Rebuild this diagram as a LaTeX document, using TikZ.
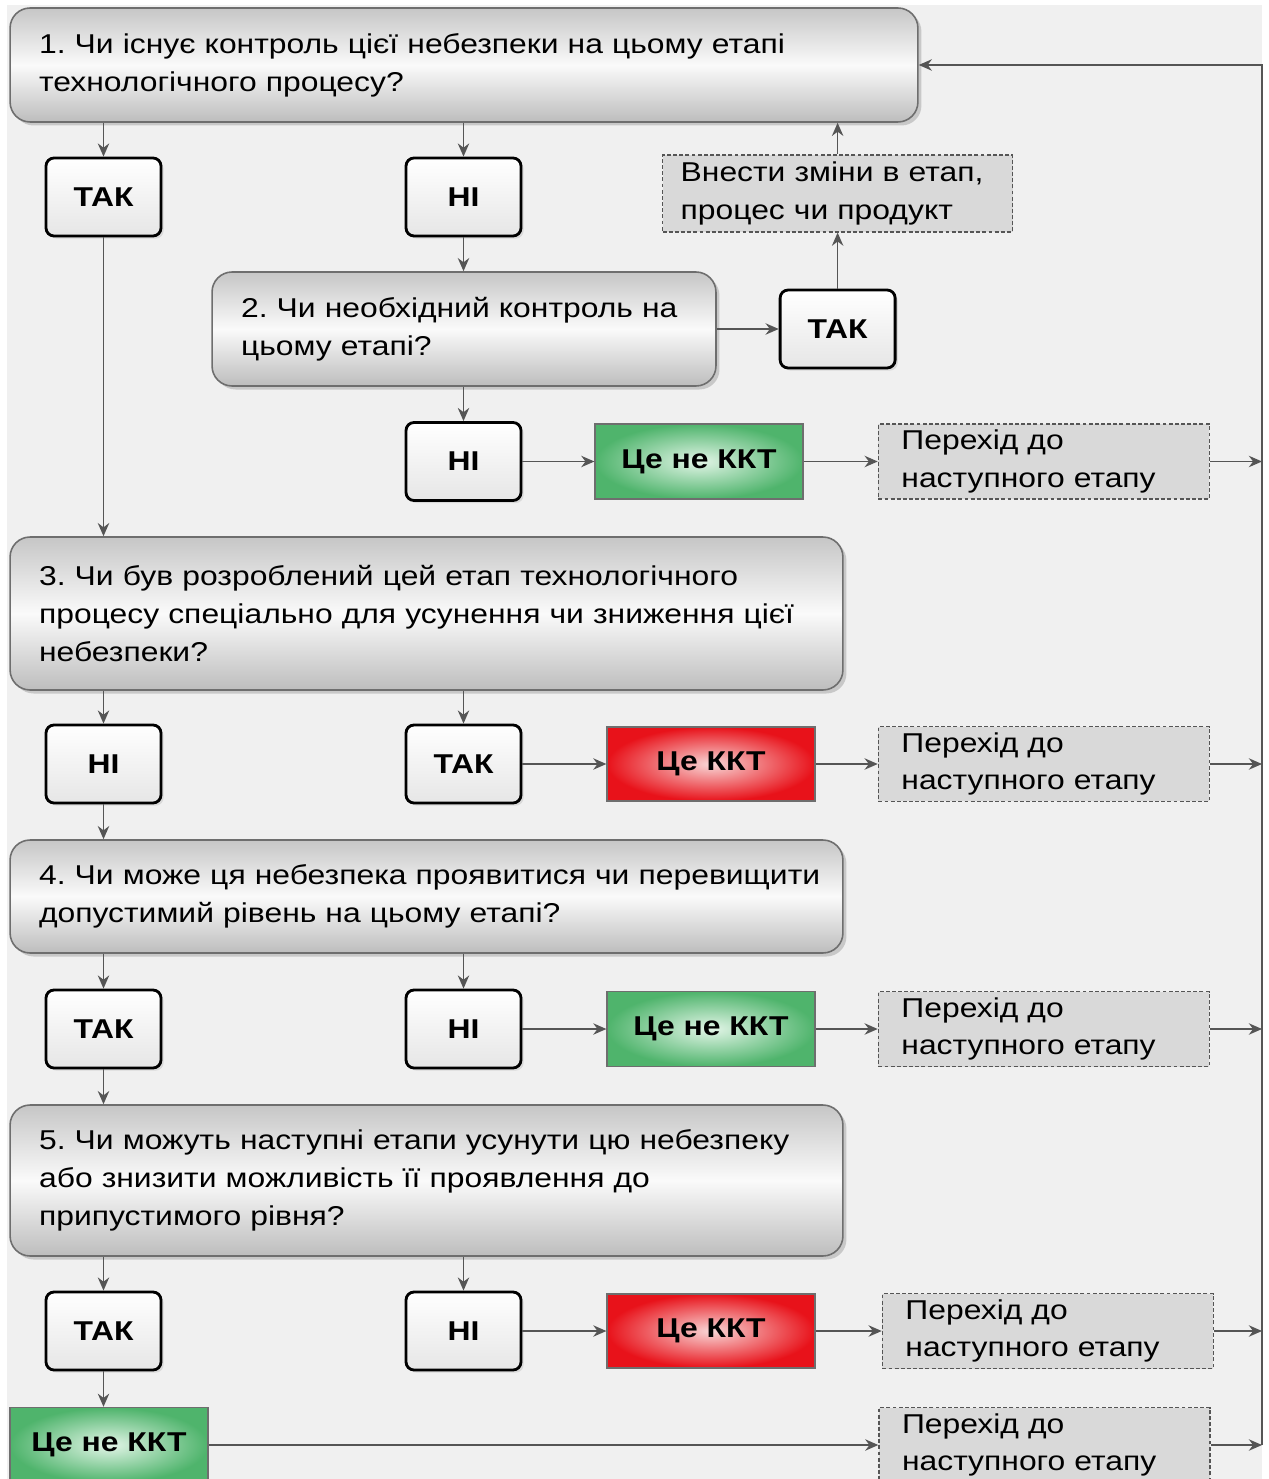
\documentclass[tikz,border=0pt]{standalone}
\usepackage{fontspec}
\setmainfont{Liberation Sans}[FakeStretch=1.17]
\frenchspacing
\usetikzlibrary{positioning,shadows,arrows.meta}

\definecolor{bggray}{HTML}{F0F0F0}
\definecolor{linegray}{HTML}{555555}
\definecolor{qedge}{HTML}{6E6E6E}
\definecolor{qtop}{HTML}{C6C6C6}
\definecolor{qmid}{HTML}{FAFAFA}
\definecolor{qbot}{HTML}{BDBDBD}
\definecolor{ansbot}{HTML}{E6E6E6}
\definecolor{okout}{HTML}{4FB46C}
\definecolor{okin}{HTML}{E2F5E7}
\definecolor{ccpout}{HTML}{E8121A}
\definecolor{ccpin}{HTML}{F8D6D6}
\definecolor{nextfill}{HTML}{D9D9D9}

\newcommand{\qfont}{\fontsize{15.5}{21.5}\selectfont}

\tikzset{
  question/.style={draw=qedge, line width=0.9pt, rounded corners=0.4cm,
    top color=qtop, bottom color=qbot, middle color=qmid,
    align=left, inner xsep=0.58cm, font=\qfont,
    drop shadow={opacity=0.35, shadow xshift=2pt, shadow yshift=-2pt}},
  answer/.style={draw=black, line width=1.6pt, rounded corners=0.16cm,
    top color=white, bottom color=ansbot, minimum width=2.3cm,
    minimum height=1.56cm, font=\bfseries\qfont,
    drop shadow={opacity=0.2, shadow xshift=1.5pt, shadow yshift=-1.5pt}},
  notccp/.style={draw=qedge, line width=0.8pt, inner color=okin, outer color=okout,
    minimum width=4.16cm, minimum height=1.5cm, font=\bfseries\qfont},
  isccp/.style={draw=qedge, line width=0.8pt, inner color=ccpin, outer color=ccpout,
    minimum width=4.16cm, minimum height=1.48cm, font=\bfseries\qfont},
  nextstep/.style={draw=linegray, line width=0.8pt, dash pattern=on 2.2pt off 1.3pt,
    fill=nextfill, align=left, inner xsep=0.46cm, text width=5.7cm,
    minimum height=1.5cm, font=\qfont},
  arr/.style={draw=linegray, line width=0.85pt, -{Stealth[length=7.5pt,width=6.5pt]}},
}

\begin{document}
\begin{tikzpicture}[x=0.02cm, y=-0.02cm]
\useasboundingbox (0,0) rectangle (1268,1479);
\fill[bggray] (7,5) rectangle (1262,1479);

% questions
\node (q1) [question, text width=17cm, minimum height=2.28cm] at (464,65)
  {1. Чи існує контроль цієї небезпеки на цьому етапі\\технологічного процесу?};
\node (q2) [question, text width=8.92cm, minimum height=2.28cm] at (464,329)
  {2. Чи необхідний контроль на\\цьому етапі?};
\node (q3) [question, text width=15.5cm, minimum height=3.06cm] at (426.5,613.5)
  {3. Чи був розроблений цей етап технологічного\\процесу спеціально для усунення чи зниження цієї\\небезпеки?};
\node (q4) [question, text width=15.5cm, minimum height=2.26cm] at (426.5,896.5)
  {\mbox{4. Чи може ця небезпека проявитися чи перевищити}\\допустимий рівень на цьому етапі?};
\node (q5) [question, text width=15.5cm, minimum height=3.02cm] at (426.5,1180.5)
  {5. Чи можуть наступні етапи усунути цю небезпеку\\або знизити можливість її проявлення до\\припустимого рівня?};

% answers
\node (yes1) [answer] at (103.5,197) {ТАК};
\node (no1) [answer] at (463.5,197) {НІ};
\node (yes2) [answer, right=1.24cm of q2] {ТАК};
\node (change) [nextstep, text width=6.28cm, inner xsep=0.36cm, minimum height=1.54cm,
  above=1.12cm of yes2] {Внести зміни в етап,\\процес чи продукт};
\node (no2) [answer] at (463.5,461.5) {НІ};
\node (no3) [answer] at (103.5,764) {НІ};
\node (yes3) [answer] at (463.5,764) {ТАК};
\node (yes4) [answer] at (103.5,1029) {ТАК};
\node (no4) [answer] at (463.5,1029) {НІ};
\node (yes5) [answer] at (103.5,1331) {ТАК};
\node (no5) [answer] at (463.5,1331) {НІ};

% results
\node (ok1) [notccp, right=1.44cm of no2] {Це не ККТ};
\node (next1) [nextstep, right=1.48cm of ok1] {Перехід до\\наступного етапу};
\node (ccp1) [isccp, right=1.68cm of yes3] {Це ККТ};
\node (next2) [nextstep, right=1.24cm of ccp1] {Перехід до\\наступного етапу};
\node (ok2) [notccp, right=1.68cm of no4] {Це не ККТ};
\node (next3) [nextstep, right=1.24cm of ok2] {Перехід до\\наступного етапу};
\node (ccp2) [isccp, right=1.68cm of no5] {Це ККТ};
\node (next4) [nextstep, right=1.32cm of ccp2] {Перехід до\\наступного етапу};
\node (ok3) [notccp, minimum width=3.96cm] at (109,1445) {Це не ККТ};
\node (next5) [nextstep] at (1044.5,1445) {Перехід до\\наступного етапу};

\coordinate (bus) at (1262,1445);

% connectors
\draw[arr] (q1.south -| yes1) -- (yes1);
\draw[arr] (q1.south -| no1) -- (no1);
\draw[arr] (yes1) -- (yes1 |- q3.north);
\draw[arr] (no1) -- (no1 |- q2.north);
\draw[arr] (q2) -- (yes2);
\draw[arr] (yes2) -- (change);
\draw[arr] (change) -- (change |- q1.south);
\draw[arr] (q2.south -| no2) -- (no2);
\draw[arr] (no2) -- (ok1);
\draw[arr] (ok1) -- (next1);
\draw[arr] (q3.south -| no3) -- (no3);
\draw[arr] (q3.south -| yes3) -- (yes3);
\draw[arr] (yes3) -- (ccp1);
\draw[arr] (ccp1) -- (next2);
\draw[arr] (no3) -- (no3 |- q4.north);
\draw[arr] (q4.south -| yes4) -- (yes4);
\draw[arr] (q4.south -| no4) -- (no4);
\draw[arr] (no4) -- (ok2);
\draw[arr] (ok2) -- (next3);
\draw[arr] (yes4) -- (yes4 |- q5.north);
\draw[arr] (q5.south -| yes5) -- (yes5);
\draw[arr] (q5.south -| no5) -- (no5);
\draw[arr] (no5) -- (ccp2);
\draw[arr] (ccp2) -- (next4);
\draw[arr] (yes5) -- (yes5 |- ok3.north);
\draw[arr] (ok3) -- (next5);
\foreach \n in {next1,next2,next3,next4,next5}
  \draw[arr] (\n) -- (\n -| bus);
\draw[arr] (bus) |- (q1);
\end{tikzpicture}
\end{document}
